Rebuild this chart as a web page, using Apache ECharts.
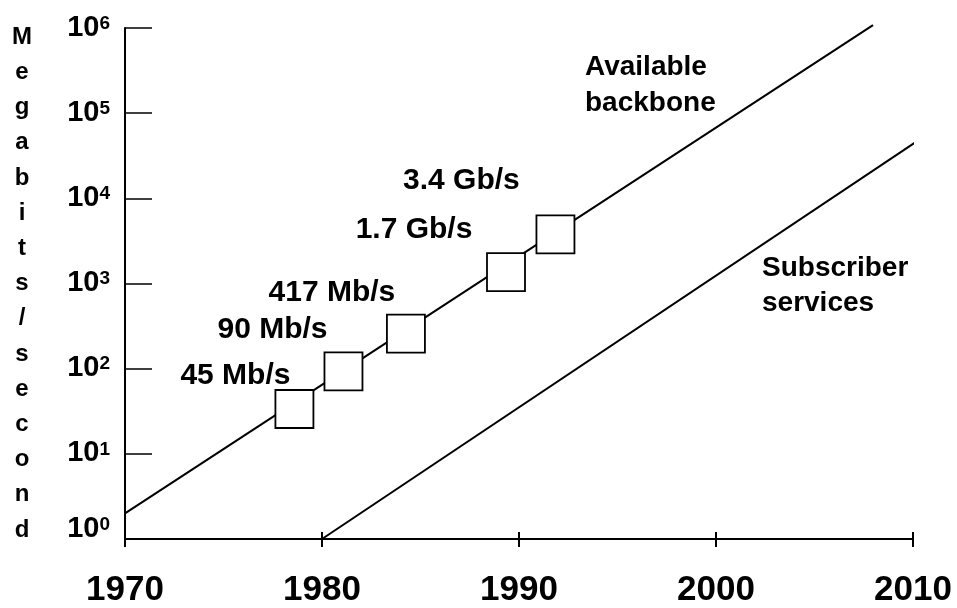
<!DOCTYPE html>
<html>
<head>
<meta charset="utf-8">
<script src="https://cdn.jsdelivr.net/npm/echarts@6/dist/echarts.min.js"></script>
<style>
html,body{margin:0;padding:0;background:#fff;}
#chart{width:957px;height:608px;}
</style>
</head>
<body>
<div id="chart"></div>
<script>
// ---- data ----
const xTicks = [1970, 1980, 1990, 2000, 2010];
const yExponents = [0, 1, 2, 3, 4, 5, 6];
const yAxisTitle = 'Megabits/second';

const backboneYears = [1970, 2007.97];
const backboneValues = [2.0, 1.08e6];

const subscriberYears = [1980, 2010.51];
const subscriberValues = [1, 52300];

const stepYears = [1978.60, 1981.09, 1984.26, 1989.34, 1991.85];
const stepValues = [33.6, 93, 258, 1362, 3775];
const stepLabels = ['45 Mb/s', '90 Mb/s', '417 Mb/s', '1.7 Gb/s', '3.4 Gb/s'];

const backboneLabel = ['Available', 'backbone'];
const subscriberLabel = ['Subscriber', 'services'];
// --------------------------------------

const FONT = '"Liberation Sans", Arial, Helvetica, sans-serif';
const labelOffsets = [[-59, -33], [-71, -42], [-74, -41], [-92, -42], [-94, -54]];

const chart = echarts.init(document.getElementById('chart'), null, {renderer: 'canvas'});

const option = {
  animation: false,
  backgroundColor: '#fff',
  grid: {left: 125, right: 44, top: 28, bottom: 67, containLabel: false},
  xAxis: [
    {
      type: 'value', position: 'bottom',
      min: xTicks[0], max: xTicks[xTicks.length - 1], interval: 10,
      axisLine: {show: true, lineStyle: {color: '#000', width: 2}},
      axisTick: {show: true, inside: false, length: 8, lineStyle: {color: '#000', width: 2}},
      axisLabel: {
        show: true, margin: 34, color: '#000', fontFamily: FONT, fontWeight: 'bold',
        fontSize: 35, lineHeight: 35,
        formatter: v => String(v)
      },
      splitLine: {show: false}
    },
    {
      type: 'value', position: 'bottom', gridIndex: 0,
      min: xTicks[0], max: xTicks[xTicks.length - 1], interval: 10,
      axisLine: {show: false},
      axisTick: {show: true, inside: true, length: 7, lineStyle: {color: '#000', width: 2}},
      axisLabel: {show: false},
      splitLine: {show: false}
    }
  ],
  yAxis: {
    type: 'log', logBase: 10,
    min: Math.pow(10, yExponents[0]), max: Math.pow(10, yExponents[yExponents.length - 1]),
    interval: 1,
    axisLine: {show: true, lineStyle: {color: '#000', width: 2}},
    axisTick: {show: true, inside: true, length: 27, lineStyle: {color: '#000', width: 1.5}},
    minorTick: {show: false},
    splitLine: {show: false},
    axisLabel: {
      show: true, margin: 15, color: '#000',
      formatter: function (v) {
        const e = Math.round(Math.log10(v));
        if (yExponents.indexOf(e) < 0) return '';
        if (e === yExponents[0]) return '{b|10}{s|' + e + '}\n{gap|}';
        return '{b|10}{s|' + e + '}';
      },
      rich: {
        b: {fontFamily: FONT, fontWeight: 'bold', fontSize: 29, lineHeight: 28, color: '#000', verticalAlign: 'bottom'},
        s: {fontFamily: FONT, fontWeight: 'bold', fontSize: 19, lineHeight: 19, color: '#000', verticalAlign: 'top'},
        gap: {fontSize: 10, lineHeight: 20, height: 20}
      }
    },
    name: yAxisTitle.split('').join('\n'),
    nameLocation: 'middle',
    nameRotate: 0,
    nameGap: 103,
    nameTextStyle: {
      fontFamily: FONT, fontWeight: 'bold', fontSize: 24, lineHeight: 35.2,
      color: '#000', align: 'center', verticalAlign: 'middle', padding: [0, 0, 16, 0]
    }
  },
  series: [
    {
      name: 'Available backbone', type: 'line', xAxisIndex: 0, clip: false,
      data: backboneYears.map((y, i) => [y, backboneValues[i]]),
      symbol: 'none', lineStyle: {color: '#000', width: 2}, z: 2, silent: true
    },
    {
      name: 'Subscriber services', type: 'line', xAxisIndex: 0, clip: false,
      data: subscriberYears.map((y, i) => [y, subscriberValues[i]]),
      symbol: 'none', lineStyle: {color: '#000', width: 2}, z: 2, silent: true
    },
    {
      name: 'Backbone rates', type: 'scatter', xAxisIndex: 0, clip: false,
      symbol: 'rect', symbolSize: 38, z: 3,
      itemStyle: {color: '#fff', borderColor: '#000', borderWidth: 1.8, opacity: 1},
      data: stepYears.map((y, i) => ({value: [y, stepValues[i]], name: stepLabels[i]})),
      label: {
        show: true, position: 'inside', formatter: p => p.name,
        fontFamily: FONT, fontWeight: 'bold', fontSize: 30, color: '#000',
        align: 'center', verticalAlign: 'middle'
      },
      labelLayout: function (params) {
        const o = labelOffsets[params.dataIndex];
        return {dx: o[0], dy: o[1], hideOverlap: false};
      },
      emphasis: {disabled: true}
    }
  ],
  graphic: [
    {
      type: 'text', left: 585, top: 49, silent: true,
      style: {text: backboneLabel.join('\n'), font: 'bold 28px ' + FONT, lineHeight: 36, fill: '#000', textAlign: 'left'}
    },
    {
      type: 'text', left: 762, top: 251, silent: true,
      style: {text: subscriberLabel.join('\n'), font: 'bold 28px ' + FONT, lineHeight: 35, fill: '#000', textAlign: 'left'}
    }
  ]
};
chart.setOption(option);
</script>
</body>
</html>
